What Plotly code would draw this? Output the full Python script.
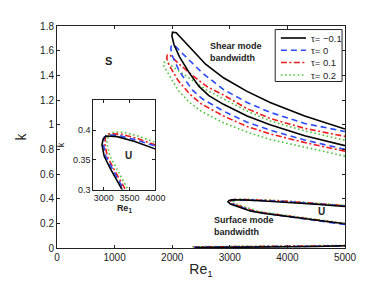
import plotly.graph_objects as go

# ---------------- data ----------------
taus = ["τ= −0.1", "τ= 0", "τ= 0.1", "τ= 0.2"]
colors = ["#000000", "#2a4bff", "#ee1c1c", "#4cc23a"]
dashes = ["solid", "6px,4px", "6px,2.5px,2px,2.5px", "1.6px,2.6px"]

# shear-mode neutral loops (lower branch from Re=5000 back to nose, then upper branch)
shear_re_m01 = [5000, 4300, 3700, 3300, 2890, 2636, 2466, 2297, 2127, 2030, 1995, 2005, 2070, 2127, 2352, 2580, 2890, 3300, 3700, 4300, 5000]
shear_k_m01 = [0.83, 0.91, 1.00, 1.07, 1.165, 1.235, 1.31, 1.42, 1.55, 1.65, 1.72, 1.75, 1.745, 1.717, 1.60, 1.49, 1.38, 1.27, 1.18, 1.07, 0.965]
shear_re_0 = [5000, 4300, 3700, 3300, 2890, 2522, 2352, 2127, 2000, 1975, 1990, 2040, 2150, 2352, 2522, 2890, 3300, 3700, 4300, 5000]
shear_k_0 = [0.80, 0.875, 0.955, 1.02, 1.11, 1.21, 1.28, 1.43, 1.56, 1.62, 1.645, 1.645, 1.59, 1.50, 1.42, 1.285, 1.18, 1.10, 1.01, 0.944]
shear_re_01 = [5000, 4300, 3700, 3300, 2890, 2500, 2300, 2100, 1950, 1905, 1915, 1960, 2100, 2350, 2600, 2890, 3300, 3700, 4300, 5000]
shear_k_01 = [0.785, 0.855, 0.925, 0.985, 1.07, 1.17, 1.25, 1.36, 1.48, 1.54, 1.565, 1.565, 1.50, 1.40, 1.31, 1.24, 1.13, 1.05, 0.97, 0.905]
shear_re_02 = [5000, 4300, 3700, 3300, 2890, 2500, 2300, 2100, 1920, 1850, 1860, 1900, 2100, 2350, 2600, 2890, 3300, 3700, 4300, 5000]
shear_k_02 = [0.745, 0.815, 0.88, 0.94, 1.015, 1.11, 1.18, 1.28, 1.42, 1.48, 1.505, 1.505, 1.44, 1.36, 1.28, 1.21, 1.11, 1.03, 0.95, 0.873]

# surface-mode neutral loops
surf_re_m01 = [5000, 4500, 4000, 3600, 3356, 3137, 3011, 2968, 2990, 3043, 3262, 3600, 4000, 4500, 5000]
surf_k_m01 = [0.197, 0.225, 0.255, 0.28, 0.30, 0.334, 0.356, 0.3755, 0.385, 0.390, 0.389, 0.381, 0.370, 0.355, 0.336]
surf_re_0 = [5000, 4500, 4000, 3600, 3385, 3170, 3040, 2995, 3011, 3080, 3300, 3600, 4000, 4500, 5000]
surf_k_0 = [0.19, 0.222, 0.255, 0.282, 0.30, 0.334, 0.356, 0.377, 0.388, 0.392, 0.391, 0.384, 0.375, 0.36, 0.340]
surf_re_01 = [5000, 4500, 4000, 3600, 3420, 3200, 3070, 3020, 3040, 3105, 3350, 3650, 4000, 4500, 5000]
surf_k_01 = [0.195, 0.226, 0.258, 0.285, 0.30, 0.334, 0.356, 0.378, 0.39, 0.394, 0.393, 0.386, 0.378, 0.363, 0.343]
surf_re_02 = [5000, 4500, 4000, 3600, 3470, 3260, 3120, 3060, 3090, 3198, 3400, 3700, 4000, 4500, 5000]
surf_k_02 = [0.20, 0.23, 0.262, 0.29, 0.30, 0.334, 0.356, 0.379, 0.392, 0.397, 0.396, 0.389, 0.381, 0.366, 0.346]

# near-zero branch
base_re_m01 = [2400, 3500, 4500, 5000]
base_k_m01 = [0.003, 0.006, 0.012, 0.018]
base_re_0 = [2380, 3500, 4500, 5000]
base_k_0 = [0.006, 0.009, 0.013, 0.016]
base_re_01 = [2370, 3500, 4500, 5000]
base_k_01 = [0.008, 0.011, 0.015, 0.019]
base_re_02 = [2350, 3500, 4500, 5000]
base_k_02 = [0.010, 0.013, 0.017, 0.021]

shear_re = [shear_re_m01, shear_re_0, shear_re_01, shear_re_02]
shear_k = [shear_k_m01, shear_k_0, shear_k_01, shear_k_02]
surf_re = [surf_re_m01, surf_re_0, surf_re_01, surf_re_02]
surf_k = [surf_k_m01, surf_k_0, surf_k_01, surf_k_02]
base_re = [base_re_m01, base_re_0, base_re_01, base_re_02]
base_k = [base_k_m01, base_k_0, base_k_01, base_k_02]

main_xticks = [0, 1000, 2000, 3000, 4000, 5000]
main_yticks = [0, 0.2, 0.4, 0.6, 0.8, 1, 1.2, 1.4, 1.6, 1.8]
main_yticklabels = ["0", "0.2", "0.4", "0.6", "0.8", "1", "1.2", "1.4", "1.6", "1.8"]
inset_xticks = [3000, 3500, 4000]
inset_yticks = [0.3, 0.35, 0.4]

FONT = "Liberation Sans, Arial, sans-serif"

fig = go.Figure()

# draw in reverse order so black is on top
order = [3, 2, 1, 0]
for i in order:
    xs = shear_re[i] + [None] + surf_re[i] + [None] + base_re[i]
    ys = shear_k[i] + [None] + surf_k[i] + [None] + base_k[i]
    fig.add_trace(go.Scatter(
        x=xs, y=ys, mode="lines", name=taus[i], showlegend=False,
        line=dict(color=colors[i], dash=dashes[i], width=1.6),
        connectgaps=False, xaxis="x", yaxis="y"))
for i in order:
    fig.add_trace(go.Scatter(
        x=surf_re[i], y=surf_k[i], mode="lines", name=taus[i], showlegend=False,
        line=dict(color=colors[i], dash=dashes[i], width=1.6),
        xaxis="x2", yaxis="y2"))

axis_common = dict(showline=True, linecolor="#222", linewidth=1, mirror="allticks",
                   ticks="inside", ticklen=3, tickcolor="#222", showgrid=False,
                   zeroline=False, tickfont=dict(family=FONT, size=10, color="#222"))

# compact MATLAB-style legend box (paper coordinates)
leg_left, leg_right, leg_top, leg_bottom = 0.7576, 0.9898, 0.984, 0.750
leg_line_x0, leg_line_x1, leg_text_x = 0.7773, 0.8644, 0.8763
leg_rows = [0.9459, 0.8905, 0.8355, 0.7792]

shapes = [dict(type="rect", xref="paper", yref="paper", x0=leg_left, x1=leg_right,
               y0=leg_bottom, y1=leg_top, line=dict(color="#222", width=1),
               fillcolor="white", layer="above")]
annotations = []
for i in range(len(taus)):
    shapes.append(dict(type="line", xref="paper", yref="paper",
                       x0=leg_line_x0, x1=leg_line_x1, y0=leg_rows[i], y1=leg_rows[i],
                       line=dict(color=colors[i], dash=dashes[i], width=1.6), layer="above"))
    annotations.append(dict(x=leg_text_x, y=leg_rows[i], xref="paper", yref="paper",
                            text=taus[i], showarrow=False, xanchor="left", yanchor="middle",
                            font=dict(family=FONT, size=9.5, color="#222")))

annotations += [
    dict(x=890, y=1.52, xref="x", yref="y", text="<b>S</b>", showarrow=False,
         font=dict(family=FONT, size=11, color="#222")),
    dict(x=2619, y=1.59, xref="x", yref="y", text="<b>Shear mode<br>bandwidth</b>",
         showarrow=False, xanchor="left", align="left",
         font=dict(family=FONT, size=9, color="#222")),
    dict(x=2686, y=0.177, xref="x", yref="y", text="<b>Surface mode<br>bandwidth</b>",
         showarrow=False, xanchor="left", align="left",
         font=dict(family=FONT, size=9, color="#222")),
    dict(x=4585, y=0.30, xref="x", yref="y", text="<b>U</b>", showarrow=False,
         font=dict(family=FONT, size=10, color="#222")),
    dict(x=3474, y=0.358, xref="x2", yref="y2", text="<b>U</b>", showarrow=False,
         font=dict(family=FONT, size=10, color="#222")),
]

# the page body adds an 8px margin, so the figure is sized to fit inside the window
fig.update_layout(
    width=374, height=279,
    margin=dict(l=42, r=37, t=13, b=35),
    paper_bgcolor="white", plot_bgcolor="white",
    font=dict(family=FONT, color="#222"),
    showlegend=False,
    xaxis=dict(range=[0, 5000], tickvals=main_xticks, domain=[0, 1],
               title=dict(text="Re<sub>1</sub>", font=dict(family=FONT, size=14), standoff=2),
               **axis_common),
    yaxis=dict(range=[0, 1.8], tickvals=main_yticks, ticktext=main_yticklabels, domain=[0, 1],
               title=dict(text="k", font=dict(family=FONT, size=14), standoff=10),
               **axis_common),
    xaxis2=dict(range=[2800, 4000], tickvals=inset_xticks, domain=[0.126, 0.342], anchor="y2",
                title=dict(text="<b>Re<sub>1</sub></b>", font=dict(family=FONT, size=9), standoff=1),
                **{**axis_common, "tickfont": dict(family=FONT, size=9, color="#222")}),
    yaxis2=dict(range=[0.3, 0.45], tickvals=inset_yticks, domain=[0.263, 0.665], anchor="x2",
                title=dict(text="k", font=dict(family=FONT, size=9), standoff=6),
                **{**axis_common, "tickfont": dict(family=FONT, size=9, color="#222")}),
    shapes=shapes,
    annotations=annotations,
)

fig.write_html("out.html")
